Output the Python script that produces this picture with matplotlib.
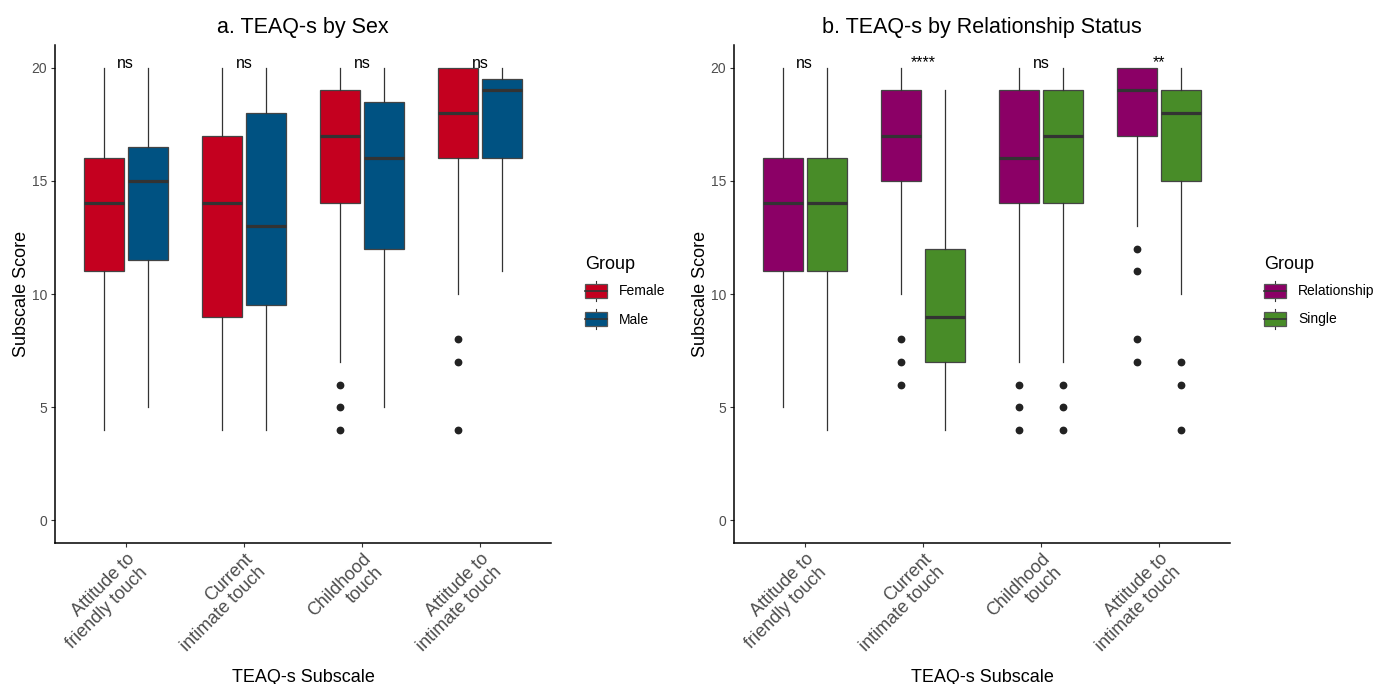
import matplotlib
matplotlib.use('Agg')
import matplotlib.pyplot as plt
from matplotlib.patches import Rectangle, Patch
from matplotlib.lines import Line2D
from matplotlib.legend_handler import HandlerBase

plt.rcParams['font.family'] = ['Liberation Sans', 'DejaVu Sans']

# ---------------- data ----------------
categories = ["Attitude to\nfriendly touch", "Current\nintimate touch",
              "Childhood\ntouch", "Attitude to\nintimate touch"]
y_ticks = [0, 5, 10, 15, 20]

# Panel a: by sex
female_whislo = [4, 4, 7, 10]
female_q1 = [11, 9, 14, 16]
female_med = [14, 14, 17, 18]
female_q3 = [16, 17, 19, 20]
female_whishi = [20, 20, 20, 20]
female_fliers = [[], [], [6, 5, 4], [8, 7, 4]]

male_whislo = [5, 4, 5, 11]
male_q1 = [11.5, 9.5, 12, 16]
male_med = [15, 13, 16, 19]
male_q3 = [16.5, 18, 18.5, 19.5]
male_whishi = [20, 20, 20, 20]
male_fliers = [[], [], [], []]

sex_sig = ["ns", "ns", "ns", "ns"]

# Panel b: by relationship status
rel_whislo = [5, 10, 7, 13]
rel_q1 = [11, 15, 14, 17]
rel_med = [14, 17, 16, 19]
rel_q3 = [16, 19, 19, 20]
rel_whishi = [20, 20, 20, 20]
rel_fliers = [[], [8, 7, 6], [6, 5, 4], [12, 11, 8, 7]]

single_whislo = [4, 4, 7, 10]
single_q1 = [11, 7, 14, 15]
single_med = [14, 9, 17, 18]
single_q3 = [16, 12, 19, 19]
single_whishi = [20, 19, 20, 20]
single_fliers = [[], [], [6, 5, 4], [7, 6, 4]]

rel_sig = ["ns", "****", "ns", "**"]

# ---------------- style ----------------
EDGE = '#333333'
DODGE = 0.1875
BOXW = 0.3375


def make_stats(whislo, q1, med, q3, whishi, fliers):
    return [dict(whislo=a, q1=b, med=c, q3=d, whishi=e, fliers=f)
            for a, b, c, d, e, f in zip(whislo, q1, med, q3, whishi, fliers)]


class BoxKeyHandler(HandlerBase):
    def create_artists(self, legend, orig_handle, xdescent, ydescent,
                       width, height, fontsize, trans):
        x0, y0 = -xdescent, -ydescent
        fc = orig_handle.get_facecolor()
        lo, hi = 0.17, 0.83
        w1 = Line2D([x0 + width / 2] * 2, [y0, y0 + lo * height],
                    color=EDGE, lw=0.8, transform=trans)
        w2 = Line2D([x0 + width / 2] * 2, [y0 + hi * height, y0 + height],
                    color=EDGE, lw=0.8, transform=trans)
        rect = Rectangle((x0, y0 + lo * height), width, (hi - lo) * height,
                         facecolor=fc, edgecolor='#555555', lw=0.9, transform=trans)
        med = Line2D([x0, x0 + width], [y0 + height / 2] * 2, color=EDGE,
                     lw=1.2, transform=trans)
        return [w1, w2, rect, med]


def draw_panel(ax, title, groups, sig):
    n = len(categories)
    pos = list(range(1, n + 1))
    for (stats, color, offset) in groups:
        ax.bxp(stats, positions=[p + offset for p in pos], widths=BOXW,
               patch_artist=True, showcaps=False, manage_ticks=False,
               boxprops=dict(facecolor=color, edgecolor='#444444', linewidth=0.9),
               medianprops=dict(color=EDGE, linewidth=2.3),
               whiskerprops=dict(color=EDGE, linewidth=0.9),
               flierprops=dict(marker='o', markerfacecolor='#222222',
                               markeredgecolor='#222222', markersize=4.6))
    for p, s in zip(pos, sig):
        ax.text(p, 20.0, s, ha='center', va='baseline', fontsize=11.5, color='black')
    ax.set_xlim(0.4, n + 0.6)
    ax.set_ylim(-1.0, 21.0)
    ax.set_xticks(pos)
    ax.set_xticklabels(categories, rotation=45, ha='right', va='top',
                       rotation_mode='anchor', multialignment='right',
                       fontsize=13, color='#4D4D4D', linespacing=1.1)
    ax.set_yticks(y_ticks)
    ax.set_yticklabels([str(v) for v in y_ticks], fontsize=10, color='#4D4D4D')
    ax.tick_params(axis='both', length=3, width=0.8, color=EDGE, pad=2.5)
    for side in ['top', 'right']:
        ax.spines[side].set_visible(False)
    for side in ['left', 'bottom']:
        ax.spines[side].set_linewidth(1.1)
        ax.spines[side].set_color('black')
    ax.set_title(title, fontsize=15.5, pad=8.5)
    ax.set_ylabel("Subscale Score", fontsize=13)
    ax.set_xlabel("TEAQ-s Subscale", fontsize=13)
    ax.yaxis.set_label_coords(-0.05, 0.5)
    ax.xaxis.set_label_coords(0.5, -0.253)


W, H = 1385, 684
fig = plt.figure(figsize=(W / 100, H / 100), dpi=100)
ax1 = fig.add_axes([55 / W, 1 - 543 / H, 496 / W, 498 / H])
ax2 = fig.add_axes([734 / W, 1 - 543 / H, 496 / W, 498 / H])

female_color = '#C4001F'
male_color = '#005282'
rel_color = '#8B0066'
single_color = '#488C28'

draw_panel(ax1, "a. TEAQ-s by Sex",
           [(make_stats(female_whislo, female_q1, female_med, female_q3, female_whishi, female_fliers), female_color, -DODGE),
            (make_stats(male_whislo, male_q1, male_med, male_q3, male_whishi, male_fliers), male_color, DODGE)],
           sex_sig)
draw_panel(ax2, "b. TEAQ-s by Relationship Status",
           [(make_stats(rel_whislo, rel_q1, rel_med, rel_q3, rel_whishi, rel_fliers), rel_color, -DODGE),
            (make_stats(single_whislo, single_q1, single_med, single_q3, single_whishi, single_fliers), single_color, DODGE)],
           rel_sig)


def add_legend(x_px, labels, colors):
    handles = [Patch(facecolor=c, label=l) for l, c in zip(labels, colors)]
    leg = fig.legend(handles=handles, labels=labels, title="Group",
                     loc='upper left', bbox_to_anchor=(x_px / W, 1 - 249 / H),
                     frameon=False, fontsize=10, title_fontsize=13,
                     handler_map={Patch: BoxKeyHandler()},
                     handlelength=1.6, handleheight=1.9, handletextpad=0.85,
                     labelspacing=0.55, borderpad=0, alignment='left')
    return leg


add_legend(578, ["Female", "Male"], [female_color, male_color])
add_legend(1257, ["Relationship", "Single"], [rel_color, single_color])

fig.savefig('out.png', dpi=100)
